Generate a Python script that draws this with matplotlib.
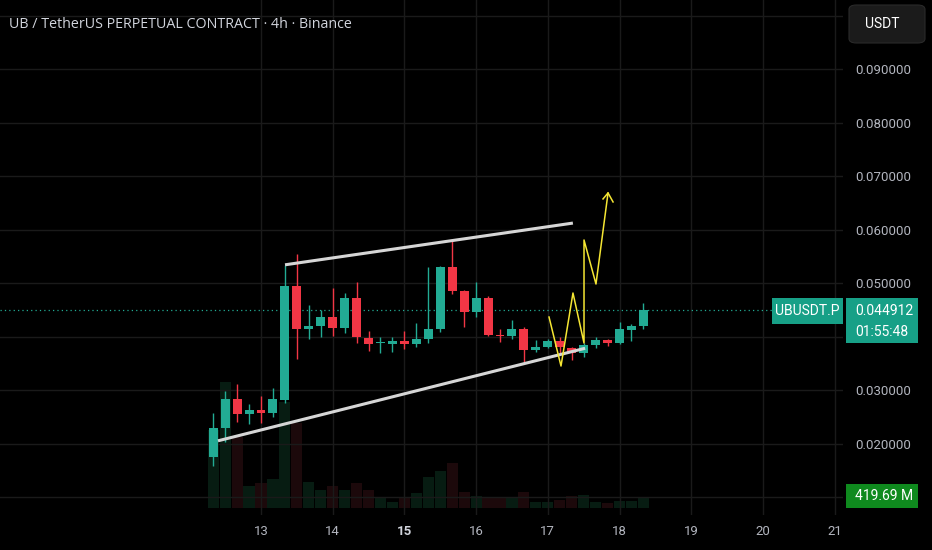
import numpy as np
import matplotlib.pyplot as plt
from matplotlib.patches import Rectangle, FancyBboxPatch

W, H = 932, 550

# 4h candles, UBUSDT.P perpetual
opens = [0.0175, 0.0229, 0.0283, 0.0255, 0.0263, 0.0257, 0.0281, 0.0494, 0.0414, 0.0420,
         0.0436, 0.0416, 0.0472, 0.0397, 0.0388, 0.0386, 0.0392, 0.0386, 0.0395, 0.0414,
         0.0530, 0.0485, 0.0446, 0.0472, 0.0403, 0.0401, 0.0414, 0.0375, 0.0380, 0.0392,
         0.0378, 0.0369, 0.0384, 0.0393, 0.0388, 0.0412, 0.0420]
highs = [0.0257, 0.0298, 0.0311, 0.0274, 0.0289, 0.0304, 0.0534, 0.0554, 0.0459, 0.0450,
         0.0491, 0.0481, 0.0502, 0.0410, 0.0399, 0.0399, 0.0410, 0.0425, 0.0530, 0.0531,
         0.0582, 0.0487, 0.0502, 0.0476, 0.0414, 0.0431, 0.0418, 0.0393, 0.0395, 0.0399,
         0.0380, 0.0388, 0.0399, 0.0395, 0.0427, 0.0423, 0.0463]
lows = [0.0158, 0.0203, 0.0240, 0.0236, 0.0238, 0.0249, 0.0276, 0.0358, 0.0395, 0.0399,
        0.0401, 0.0407, 0.0388, 0.0373, 0.0369, 0.0371, 0.0377, 0.0380, 0.0388, 0.0408,
        0.0479, 0.0418, 0.0436, 0.0401, 0.0390, 0.0395, 0.0350, 0.0371, 0.0378, 0.0369,
        0.0356, 0.0362, 0.0378, 0.0382, 0.0386, 0.0392, 0.0414]
closes = [0.0229, 0.0283, 0.0255, 0.0263, 0.0257, 0.0283, 0.0494, 0.0414, 0.0420, 0.0436,
          0.0416, 0.0472, 0.0399, 0.0386, 0.0390, 0.0392, 0.0386, 0.0395, 0.0414, 0.0530,
          0.0485, 0.0446, 0.0472, 0.0403, 0.0401, 0.0414, 0.0375, 0.0380, 0.0392, 0.0380,
          0.0369, 0.0384, 0.0393, 0.0388, 0.0414, 0.0420, 0.044912]
volumes = [2960, 4790, 2700, 840, 950, 1100, 4030, 3230, 990, 680,
           840, 680, 950, 680, 380, 230, 380, 570, 1180, 1400,
           1710, 610, 460, 420, 420, 420, 610, 230, 230, 300,
           460, 490, 230, 190, 270, 270, 419.69]  # millions

day_ticks = [13, 14, 15, 16, 17, 18, 19, 20, 21]
price_ticks = [0.01, 0.02, 0.03, 0.04, 0.05, 0.06, 0.07, 0.08, 0.09, 0.10]
hidden_ticks = [0.01, 0.04, 0.10]  # covered by the axis badges

# drawings (x in days of month, y in price)
upper_x = [13.335, 17.35]
upper_y = [0.0534, 0.0612]
lower_x = [12.40, 17.52]
lower_y = [0.0205, 0.0378]
path_x = [17.017, 17.184, 17.351, 17.505, 17.505, 17.672, 17.84]
path_y = [0.04364, 0.03448, 0.04813, 0.03878, 0.05804, 0.04981, 0.06683]
head_x = [17.77, 17.84, 17.91]
head_y = [0.06571, 0.06683, 0.06515]

last_price = 0.044912
last_vol = "419.69 M"
countdown = "01:55:48"
title = "UB / TetherUS PERPETUAL CONTRACT · 4h · Binance"

GREEN = '#22ab94'
RED = '#f23645'
GRID = '#1a1a1a'
TXT = '#b2b5be'

t = 12 + 8 / 24 + np.arange(len(opens)) * 4 / 24

fig = plt.figure(figsize=(W / 100, H / 100), dpi=100, facecolor='black')

# volume pane underneath
axv = fig.add_axes([0, 1 - 508 / H, 843 / W, 200 / H])
axv.set_facecolor('black')
axv.set_xlim(9.36, 21.117)
axv.set_ylim(0, 7600)
axv.axis('off')
vcol = ['#071c12' if c >= o else '#1c090b' for o, c in zip(opens, closes)]
axv.bar(t, volumes, width=0.155, color=vcol, linewidth=0)

ax = fig.add_axes([0, 1 - 515 / H, 843 / W, 515 / H])
ax.set_facecolor('none')
ax.set_zorder(2)
ax.set_xlim(9.36, 21.117)
ax.set_ylim(0.05 - (515 - 283) / 5350, 0.05 + 283 / 5350)

for s in ax.spines.values():
    s.set_visible(False)
ax.set_xticks(day_ticks)
ax.set_xticklabels([str(d) for d in day_ticks])
ax.set_yticks(price_ticks)
ax.set_yticklabels(['' if p in hidden_ticks else '%.6f' % p for p in price_ticks])
ax.yaxis.tick_right()
ax.tick_params(axis='y', length=0, pad=8.5, labelcolor=TXT, labelsize=9.5)
ax.tick_params(axis='x', length=0, pad=7, labelcolor=TXT, labelsize=9.5)
for lab in ax.get_xticklabels() + ax.get_yticklabels():
    lab.set_family('Roboto')
for lab in ax.get_xticklabels():
    if lab.get_text() == '15':
        lab.set_fontweight('bold')
        lab.set_color('#d1d4dc')
ax.grid(True, color=GRID, lw=1)
ax.set_axisbelow(True)

# candles
for i in range(len(opens)):
    o, h, l, c = opens[i], highs[i], lows[i], closes[i]
    col = GREEN if c >= o else RED
    ax.vlines(t[i], l, h, color=col, lw=1, zorder=3)
    lo = min(o, c)
    hgt = max(abs(c - o), 0.00012)
    ax.add_patch(Rectangle((t[i] - 0.0625, lo), 0.125, hgt, color=col, lw=0, zorder=4))

ax.axhline(last_price, color=GREEN, ls=(0, (1, 2.5)), lw=0.9, zorder=2)

# trend lines and projected path
ax.plot(upper_x, upper_y, color='#d6d6d6', lw=2.2, solid_capstyle='butt', zorder=5)
ax.plot(lower_x, lower_y, color='#d6d6d6', lw=2.2, solid_capstyle='butt', zorder=5)
ax.plot(path_x, path_y, color='#f5e633', lw=1.1, zorder=6)
ax.plot(head_x, head_y, color='#f5e633', lw=1.1, zorder=6)


def px_box(x0, y0, x1, y1, color, rounded=False, edge='none'):
    if rounded:
        p = FancyBboxPatch((x0 / W, 1 - y1 / H), (x1 - x0) / W, (y1 - y0) / H,
                           boxstyle='round,pad=0,rounding_size=0.008', transform=fig.transFigure,
                           facecolor=color, edgecolor=edge, lw=0.8, zorder=10)
    else:
        p = Rectangle((x0 / W, 1 - y1 / H), (x1 - x0) / W, (y1 - y0) / H,
                      transform=fig.transFigure, facecolor=color, edgecolor='none', zorder=10)
    fig.add_artist(p)


def px_text(x, y, s, color='white', size=9.5, ha='left', family='Roboto'):
    fig.text(x / W, 1 - y / H, s, color=color, fontsize=size, ha=ha, va='center',
             family=family, zorder=11)


# price axis labels
px_box(772, 298, 843, 324, '#17a087')
px_text(807, 311, 'UBUSDT.P', ha='center', size=10)
px_box(846, 298, 918, 343, '#17a087')
px_text(855, 311, '%.6f' % last_price, size=10)
px_text(855, 332, countdown, size=10)
px_box(846, 484, 918, 508, '#0f8a1e')
px_text(855, 496, last_vol, size=10)
px_box(849, 5, 925, 43, '#1b1b1b', rounded=True, edge='#2a2a2a')
px_text(865, 24, 'USDT', size=10)

px_text(9, 25, title, color='#d1d4dc', size=10.3, family='Open Sans')

fig.savefig('out.png', dpi=100, facecolor='black')
